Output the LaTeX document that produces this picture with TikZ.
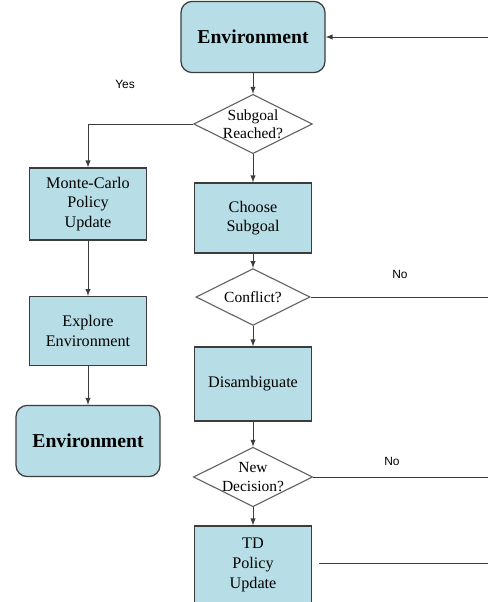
\documentclass[tikz,border=0pt]{standalone}
\usepackage{fontspec}
\setmainfont{Liberation Serif}
\newfontfamily\labelfont{Liberation Sans}
\usetikzlibrary{arrows}
\usetikzlibrary{shapes.geometric}
\definecolor{boxblue}{RGB}{183,222,230}
\definecolor{linegray}{RGB}{60,60,60}
\tikzset{procbox/.style={draw=linegray, line width=0.9pt, fill=boxblue, align=center,
  minimum width=2.925cm, font=\fontsize{11.5}{14}\selectfont},
  envbox/.style={procbox, rounded corners=8pt, minimum width=3.6cm, minimum height=1.78cm,
  font=\fontsize{14}{16}\selectfont\bfseries},
  decision/.style={diamond, draw=linegray!80, line width=0.8pt, fill=white, aspect=2,
  inner sep=0pt, align=center, minimum width=2.85cm, minimum height=1.42cm,
  font=\fontsize{11}{13}\selectfont},
  flow/.style={draw=linegray, line width=0.7pt},
  answer/.style={font=\labelfont\fontsize{8.5}{10}\selectfont}}

\begin{document}
\begin{tikzpicture}[x=0.025cm, y=-0.025cm]
  \useasboundingbox (0,0) rectangle (487,602);
  % main column
  \node [envbox] (env) at (253,37) {Environment};
  \node [decision] (reached) at (253,124) {Subgoal\\Reached?};
  \node [procbox, minimum height=1.75cm] (choose) at (253,218) {Choose\\Subgoal};
  \node [decision] (conflict) at (253,297) {Conflict?};
  \node [procbox, minimum height=1.85cm] (disamb) at (253,384) {Disambiguate};
  \node [decision] (newdec) at (253,477) {New\\Decision?};
  \node [procbox, minimum height=1.95cm] (td) at (253,565) {TD\\Policy\\Update};
  % left column
  \node [procbox, minimum height=1.8cm] (mc) at (88,204) {Monte-Carlo\\Policy\\Update};
  \node [procbox, minimum height=1.72cm] (explore) at (88,331) {Explore\\Environment};
  \node [envbox] (env2) at (88,441) {Environment};
  % right edge
  \coordinate (edge) at (490,37);

  \draw [flow, -latex] (edge) -- (env.east);
  \draw [flow, -latex] (env.south) -- (reached.north);
  \draw [flow, -latex] (reached.west) -| (mc.north);
  \node [answer] (yes) at (125,84) {Yes};
  \draw [flow, -latex] (reached.south) -- (choose.north);
  \draw [flow, -latex] (choose.south) -- (conflict.north);
  \draw [flow] (conflict.east) -- (conflict.east -| edge);
  \node [answer] (no1) at (400,274) {No};
  \draw [flow, -latex] (conflict.south) -- (disamb.north);
  \draw [flow, -latex] (disamb.south) -- (newdec.north);
  \draw [flow] (newdec.east) -- (newdec.east -| edge);
  \node [answer] (no2) at (392,461) {No};
  \draw [flow, -latex] (newdec.south) -- (td.north);
  \draw [flow] ([xshift=5pt,yshift=1pt]td.east) -- ([yshift=1pt]td.east -| edge);
  \draw [flow, -latex] (mc.south) -- (explore.north);
  \draw [flow, -latex] (explore.south) -- (env2.north);
\end{tikzpicture}
\end{document}
